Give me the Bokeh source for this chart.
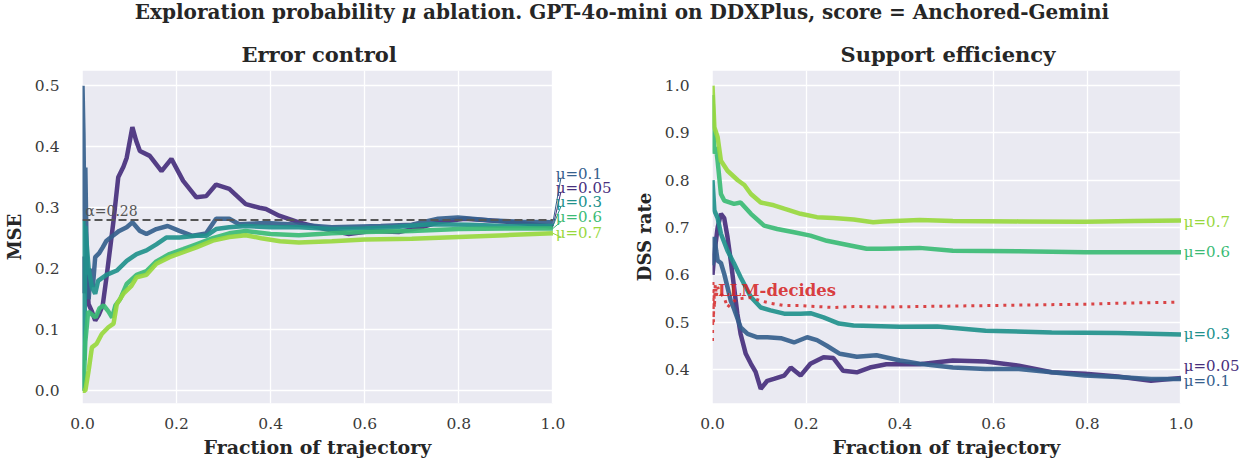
from bokeh.plotting import figure
from bokeh.layouts import column, row
from bokeh.models import (Div, Label, Arrow, BoxAnnotation, FixedTicker, Range1d,
                          NumeralTickFormatter, Title)
from bokeh.embed import file_html
from bokeh.resources import INLINE

# ---------------- data: left panel (MSE) ----------------
mus = [0.05, 0.1, 0.3, 0.6, 0.7]

mse_x_005 = [0, 0.003, 0.008, 0.013, 0.02, 0.027, 0.035, 0.043, 0.051, 0.059, 0.066, 0.076, 0.087, 0.094,
             0.106, 0.114, 0.122, 0.143, 0.168, 0.189, 0.214, 0.242, 0.263, 0.284, 0.312, 0.347, 0.376,
             0.39, 0.418, 0.46, 0.516, 0.566, 0.615, 0.672, 0.72, 0.756, 0.812, 0.869, 0.918, 1.0]
mse_y_005 = [0.22, 0.16, 0.19, 0.142, 0.13, 0.115, 0.125, 0.14, 0.186, 0.235, 0.279, 0.35, 0.367, 0.382,
             0.432, 0.41, 0.393, 0.385, 0.36, 0.38, 0.344, 0.317, 0.319, 0.338, 0.331, 0.306, 0.30,
             0.298, 0.287, 0.276, 0.265, 0.257, 0.262, 0.26, 0.268, 0.276, 0.282, 0.279, 0.276, 0.269]

mse_x_01 = [0, 0.002, 0.004, 0.006, 0.009, 0.013, 0.018, 0.022, 0.027, 0.035, 0.043, 0.051, 0.066, 0.078,
            0.094, 0.106, 0.122, 0.136, 0.157, 0.181, 0.206, 0.234, 0.263, 0.284, 0.312, 0.333, 0.39,
            0.46, 0.53, 0.634, 0.70, 0.756, 0.798, 0.869, 0.93, 1.0]
mse_y_01 = [0.50, 0.42, 0.28, 0.366, 0.22, 0.15, 0.20, 0.17, 0.219, 0.225, 0.235, 0.246, 0.255, 0.262,
            0.268, 0.276, 0.262, 0.257, 0.265, 0.27, 0.262, 0.254, 0.258, 0.282, 0.282, 0.273, 0.275,
            0.272, 0.268, 0.27, 0.272, 0.282, 0.284, 0.279, 0.277, 0.276]

mse_x_03 = [0, 0.002, 0.004, 0.006, 0.009, 0.013, 0.02, 0.027, 0.033, 0.051, 0.073, 0.094, 0.115, 0.136,
            0.157, 0.178, 0.206, 0.242, 0.263, 0.284, 0.312, 0.347, 0.40, 0.46, 0.53, 0.60, 0.66, 0.74,
            0.82, 0.90, 1.0]
mse_y_03 = [0.0, 0.28, 0.05, 0.27, 0.24, 0.20, 0.17, 0.159, 0.18, 0.19, 0.197, 0.213, 0.224, 0.23,
            0.24, 0.251, 0.251, 0.254, 0.254, 0.265, 0.268, 0.27, 0.268, 0.268, 0.265, 0.266, 0.268, 0.273,
            0.272, 0.27, 0.27]

mse_x_06 = [0, 0.003, 0.006, 0.012, 0.02, 0.028, 0.036, 0.045, 0.055, 0.063, 0.07, 0.08, 0.094, 0.115,
            0.136, 0.157, 0.185, 0.214, 0.242, 0.277, 0.312, 0.347, 0.40, 0.46, 0.53, 0.60, 0.70, 0.80,
            0.90, 1.0]
mse_y_06 = [0.0, 0.02, 0.08, 0.13, 0.125, 0.12, 0.135, 0.14, 0.13, 0.12, 0.14, 0.15, 0.175, 0.19,
            0.196, 0.212, 0.224, 0.232, 0.24, 0.25, 0.258, 0.262, 0.257, 0.255, 0.258, 0.26, 0.262, 0.265,
            0.266, 0.266]

mse_x_07 = [0, 0.006, 0.013, 0.02, 0.03, 0.041, 0.055, 0.066, 0.073, 0.087, 0.104, 0.115, 0.136, 0.157,
            0.185, 0.214, 0.242, 0.277, 0.312, 0.347, 0.38, 0.42, 0.46, 0.53, 0.60, 0.70, 0.80, 0.90, 1.0]
mse_y_07 = [0.0, 0.0, 0.033, 0.071, 0.077, 0.093, 0.104, 0.11, 0.142, 0.159, 0.172, 0.186, 0.19, 0.208,
            0.219, 0.227, 0.235, 0.246, 0.252, 0.255, 0.25, 0.245, 0.243, 0.245, 0.248, 0.249, 0.252,
            0.255, 0.258]

alpha_level = 0.28

# ---------------- data: right panel (DSS rate) ----------------
dss_x_005 = [0, 0.004, 0.011, 0.018, 0.025, 0.032, 0.039, 0.046, 0.053, 0.06, 0.071, 0.082, 0.092, 0.103,
             0.117, 0.131, 0.153, 0.167, 0.188, 0.209, 0.237, 0.258, 0.279, 0.308, 0.336, 0.371, 0.442,
             0.513, 0.583, 0.654, 0.724, 0.795, 0.865, 0.936, 1.0]
dss_y_005 = [0.60, 0.645, 0.70, 0.729, 0.72, 0.68, 0.63, 0.574, 0.518, 0.475, 0.433, 0.412, 0.395, 0.359,
             0.376, 0.38, 0.387, 0.404, 0.387, 0.412, 0.426, 0.424, 0.397, 0.394, 0.404, 0.411, 0.411,
             0.419, 0.417, 0.408, 0.394, 0.391, 0.385, 0.376, 0.382]

dss_x_01 = [0, 0.004, 0.008, 0.011, 0.018, 0.025, 0.032, 0.039, 0.046, 0.06, 0.075, 0.096, 0.117, 0.146,
            0.174, 0.202, 0.223, 0.244, 0.272, 0.308, 0.35, 0.40, 0.442, 0.513, 0.583, 0.654, 0.724,
            0.795, 0.865, 0.936, 1.0]
dss_y_01 = [0.62, 0.68, 0.65, 0.63, 0.625, 0.602, 0.574, 0.545, 0.528, 0.489, 0.475, 0.468, 0.468, 0.466,
            0.457, 0.468, 0.462, 0.45, 0.433, 0.427, 0.43, 0.419, 0.412, 0.404, 0.401, 0.401, 0.394,
            0.387, 0.384, 0.38, 0.38]

dss_x_03 = [0, 0.004, 0.011, 0.018, 0.032, 0.046, 0.06, 0.082, 0.103, 0.124, 0.153, 0.188, 0.209, 0.237,
            0.27, 0.301, 0.40, 0.48, 0.583, 0.724, 0.865, 1.0]
dss_y_03 = [0.80, 0.736, 0.72, 0.687, 0.651, 0.624, 0.595, 0.553, 0.531, 0.525, 0.518, 0.518, 0.519, 0.51,
            0.497, 0.493, 0.49, 0.491, 0.482, 0.478, 0.477, 0.474]

dss_x_06 = [0, 0.004, 0.0075, 0.011, 0.018, 0.025, 0.046, 0.06, 0.082, 0.11, 0.138, 0.174, 0.209, 0.244,
            0.294, 0.329, 0.364, 0.442, 0.513, 0.654, 0.795, 1.0]
dss_y_06 = [0.98, 0.856, 0.87, 0.84, 0.771, 0.757, 0.75, 0.753, 0.729, 0.704, 0.697, 0.69, 0.683, 0.672,
            0.662, 0.655, 0.655, 0.657, 0.651, 0.65, 0.648, 0.648]

dss_x_07 = [0, 0.004, 0.011, 0.018, 0.032, 0.054, 0.068, 0.082, 0.103, 0.131, 0.153, 0.188, 0.223, 0.258,
            0.301, 0.343, 0.364, 0.442, 0.513, 0.654, 0.795, 0.90, 1.0]
dss_y_07 = [1.0, 0.912, 0.891, 0.841, 0.82, 0.80, 0.79, 0.771, 0.753, 0.747, 0.74, 0.729, 0.722, 0.72,
            0.717, 0.711, 0.713, 0.716, 0.714, 0.713, 0.712, 0.714, 0.715]

llm_x = [0, 0.001, 0.002, 0.003, 0.004, 0.006, 0.008, 0.011, 0.018, 0.025, 0.032, 0.039, 0.053, 0.082,
         0.103, 0.124, 0.153, 0.188, 0.258, 0.301, 0.371, 0.513, 0.654, 0.795, 0.865, 0.99]
llm_y = [0.46, 0.59, 0.50, 0.57, 0.53, 0.58, 0.555, 0.574, 0.56, 0.552, 0.531, 0.54, 0.549, 0.552,
         0.545, 0.54, 0.535, 0.535, 0.531, 0.533, 0.532, 0.534, 0.536, 0.538, 0.54, 0.542]

x_ticks = [0.0, 0.2, 0.4, 0.6, 0.8, 1.0]
mse_ticks = [0.0, 0.1, 0.2, 0.3, 0.4, 0.5]
dss_ticks = [0.4, 0.5, 0.6, 0.7, 0.8, 0.9, 1.0]

# ---------------- styling ----------------
SERIF = "DejaVu Serif"
BG = "#EAEAF2"
colors = {0.05: "#472f7d", 0.1: "#35608d", 0.3: "#21918c", 0.6: "#3bbb75", 0.7: "#98d83e"}
LLM_COLOR = "#d62728"

# label placement (de-overlapped positions, in data units)
left_label_y = {0.05: 0.333, 0.1: 0.356, 0.3: 0.309, 0.6: 0.284, 0.7: 0.259}
right_label_y = {0.05: 0.408, 0.1: 0.376, 0.3: 0.475, 0.6: 0.648, 0.7: 0.711}

H = 433


def make_panel(width, border_left, x_max, y_lo, y_hi, yticks, title, ylabel, title_off, xlab_off):
    p = figure(width=width, height=H, output_backend="svg", toolbar_location=None,
               x_range=Range1d(0, x_max), y_range=Range1d(y_lo, y_hi),
               min_border_left=border_left, min_border_right=0,
               min_border_top=40, min_border_bottom=60)
    p.background_fill_color = "white"
    p.border_fill_color = "white"
    p.outline_line_color = None
    # shaded axes area covering only the data domain [0, 1]
    p.add_layout(BoxAnnotation(left=0, right=1, fill_color=BG, fill_alpha=1.0,
                               line_color=None, level="image"))
    p.xgrid.grid_line_color = "white"
    p.ygrid.grid_line_color = "white"
    p.xgrid.grid_line_width = 1.3
    p.ygrid.grid_line_width = 1.3
    p.xaxis.ticker = FixedTicker(ticks=x_ticks)
    p.yaxis.ticker = FixedTicker(ticks=yticks)
    for ax in p.axis:
        ax.axis_line_color = None
        ax.major_tick_line_color = None
        ax.minor_tick_line_color = None
        ax.major_label_text_font = SERIF
        ax.major_label_text_font_size = "15.5px"
        ax.major_label_text_color = "#3a3a3a"
        ax.axis_label_text_font = SERIF
        ax.axis_label_text_font_style = "bold"
        ax.axis_label_text_font_size = "18px"
        ax.axis_label_text_color = "#262626"
        ax.formatter = NumeralTickFormatter(format="0.0")
    p.xaxis.major_label_standoff = 8
    p.yaxis.major_label_standoff = 17
    p.yaxis.axis_label_standoff = 7
    p.yaxis.axis_label = ylabel
    p.add_layout(Title(text=title, text_font=SERIF, text_font_size="21px", text_font_style="bold",
                       text_color="#262626", align="left", offset=title_off, standoff=8), "above")
    p.add_layout(Title(text="Fraction of trajectory", text_font=SERIF, text_font_size="19px",
                       text_font_style="bold", text_color="#262626", align="left",
                       offset=xlab_off, standoff=5), "below")
    return p


# left: frame spans page x 79..630, data 0..1 spans 79..552
p1 = make_panel(630, 79, 551 / 473, -0.021, 0.525, mse_ticks, "Error control", "MSE", 159, 121)

mse_series = {0.05: (mse_x_005, mse_y_005), 0.1: (mse_x_01, mse_y_01), 0.3: (mse_x_03, mse_y_03),
              0.6: (mse_x_06, mse_y_06), 0.7: (mse_x_07, mse_y_07)}
for m in mus:
    xs, ys = mse_series[m]
    p1.line(xs, ys, line_width=4.5, line_color=colors[m], line_alpha=0.92)

p1.segment(x0=[0], x1=[1], y0=[alpha_level], y1=[alpha_level], line_dash="8 4",
           line_color="#555555", line_width=2)
p1.add_layout(Label(x=0.006, y=alpha_level, text="α=0.28", text_font=SERIF,
                    text_font_size="14px", text_color="#555555", text_baseline="bottom",
                    y_offset=1))

for m in mus:
    xs, ys = mse_series[m]
    ly = left_label_y[m]
    p1.add_layout(Arrow(end=None, x_start=xs[-1], y_start=ys[-1], x_end=1.017, y_end=ly - 0.007,
                        line_color=colors[m], line_width=1))
    p1.add_layout(Label(x=1.006, y=ly, text=f"μ={m}", text_font=SERIF, text_font_size="15px",
                        text_color=colors[m], text_baseline="middle", text_align="left"))

# right: frame spans page x 708..1244, data 0..1 spans 708..1180
p2 = make_panel(614, 78, 536 / 472, 0.328, 1.032, dss_ticks, "Support efficiency", "DSS rate", 128, 120)

dss_series = {0.05: (dss_x_005, dss_y_005), 0.1: (dss_x_01, dss_y_01), 0.3: (dss_x_03, dss_y_03),
              0.6: (dss_x_06, dss_y_06), 0.7: (dss_x_07, dss_y_07)}
for m in mus:
    xs, ys = dss_series[m]
    p2.line(xs, ys, line_width=4.5, line_color=colors[m], line_alpha=0.92)

p2.line(llm_x, llm_y, line_width=3, line_color=LLM_COLOR, line_alpha=0.85, line_dash="3 5")
p2.add_layout(Label(x=0.012, y=0.567, text="LLM-decides", text_font=SERIF, text_font_size="16.5px",
                    text_font_style="bold", text_color=LLM_COLOR, text_alpha=0.9,
                    text_baseline="middle", text_align="left"))

for m in mus:
    p2.add_layout(Label(x=1.006, y=right_label_y[m], text=f"μ={m}", text_font=SERIF,
                        text_font_size="15px", text_color=colors[m], text_baseline="middle",
                        text_align="left"))

title = Div(text=('<div style="width:1244px;text-align:center;font-family:\'DejaVu Serif\';'
                  'font-weight:bold;font-size:20px;line-height:24px;color:#262626;margin:0;padding:0;">'
                  'Exploration probability <i>μ</i> ablation. GPT-4o-mini on DDXPlus, '
                  'score = Anchored-Gemini</div>'),
            width=1244, height=30, margin=(0, 0, 0, 0))

layout = column(title, row(p1, p2, margin=(0, 0, 0, 0)), margin=(0, 0, 0, 0))

open("out.html", "w").write(file_html(layout, INLINE))
